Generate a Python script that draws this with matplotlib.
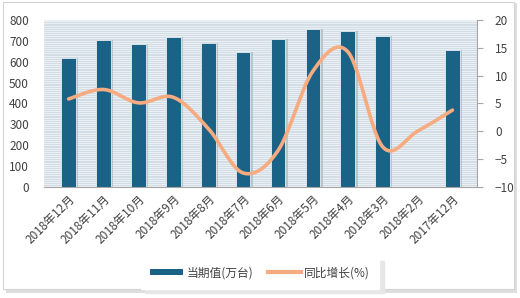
import numpy as np
import matplotlib
matplotlib.use("Agg")
import matplotlib.pyplot as plt
from matplotlib.patches import Rectangle
from matplotlib.lines import Line2D

plt.rcParams['font.family'] = ['Noto Sans CJK SC', 'DejaVu Sans']

months = ["2018年12月", "2018年11月", "2018年10月", "2018年9月", "2018年8月", "2018年7月",
          "2018年6月", "2018年5月", "2018年4月", "2018年3月", "2018年2月", "2017年12月"]
output = [618, 705, 683, 717, 690, 648, 709, 755, 749, 725, np.nan, 656]
growth = [5.8, 7.5, 5.1, 6.1, 0.5, -7.5, -3.5, 10.8, 14.3, -2.8, 0.0, 3.8]

bar_color = "#1b6386"
line_color = "#f7ab80"


def smooth_curve(x, y, steps=30):
    # Excel-like smoothed line: cubic bezier with Catmull-Rom control points
    x = np.asarray(x, float)
    y = np.asarray(y, float)
    px = np.concatenate([[x[0]], x, [x[-1]]])
    py = np.concatenate([[y[0]], y, [y[-1]]])
    xs, ys = [], []
    t = np.linspace(0, 1, steps)
    for i in range(1, len(px) - 2):
        p0 = np.array([px[i], py[i]])
        p3 = np.array([px[i + 1], py[i + 1]])
        p1 = p0 + (np.array([px[i + 1], py[i + 1]]) - np.array([px[i - 1], py[i - 1]])) / 6
        p2 = p3 - (np.array([px[i + 2], py[i + 2]]) - np.array([px[i], py[i]])) / 6
        pts = ((1 - t) ** 3)[:, None] * p0 + (3 * (1 - t) ** 2 * t)[:, None] * p1 \
            + (3 * (1 - t) * t ** 2)[:, None] * p2 + (t ** 3)[:, None] * p3
        xs.extend(pts[:, 0])
        ys.extend(pts[:, 1])
    return np.array(xs), np.array(ys)


fig = plt.figure(figsize=(5.2, 2.98), dpi=100)
fig.patch.set_facecolor("white")

# outer frame with soft shadow
fig.add_artist(Rectangle((0.012, 0.018), 0.982, 0.972, transform=fig.transFigure,
                         facecolor="#dedede", edgecolor="none", zorder=-3))
fig.add_artist(Rectangle((0.006, 0.03), 0.982, 0.962, transform=fig.transFigure,
                         facecolor="white", edgecolor="#d4d4d4", lw=0.8, zorder=-2))

ax = fig.add_axes([0.085, 0.373, 0.832, 0.56])
ax.set_facecolor("#e9eff3")
x = np.arange(len(months))

# striped background
for yv in np.arange(0, 800, 9):
    ax.axhline(yv, color="#c9d6df", lw=0.5, zorder=0)

ax.bar(x + 0.06, output, width=0.44, color="#9aa5ab", alpha=0.5, zorder=1)
ax.bar(x, output, width=0.42, color=bar_color, edgecolor="#e6eef2", lw=0.6, zorder=2)
ax.set_ylim(0, 800)
ax.set_yticks(range(0, 801, 100))
ax.set_xlim(-0.7, len(months) - 0.3)
ax.set_xticks(x)
ax.set_xticklabels(months, rotation=45, ha="right", rotation_mode="anchor", fontsize=8.5, color="#404040")
ax.tick_params(axis="y", labelsize=8.5, labelcolor="#404040", length=0, pad=11)
ax.tick_params(axis="x", length=0, pad=4)
for s in ["top", "right", "left"]:
    ax.spines[s].set_visible(False)
ax.spines["bottom"].set_color("#a6a6a6")

ax2 = ax.twinx()
sx, sy = smooth_curve(x, growth)
ax2.plot(sx, sy, color=line_color, lw=2.6, solid_capstyle="round", zorder=3)
ax2.set_ylim(-10, 20)
ax2.set_yticks(range(-10, 21, 5))
ax2.tick_params(axis="y", labelsize=8.5, labelcolor="#404040", length=4, color="#a6a6a6", pad=9)
for s in ["top", "left", "bottom"]:
    ax2.spines[s].set_visible(False)
ax2.spines["right"].set_color("#a6a6a6")

# legend with soft shadow box
handles = [Rectangle((0, 0), 1, 1, facecolor=bar_color),
           Line2D([0], [0], color=line_color, lw=3)]
leg = fig.legend(handles, ["当期值(万台)", "同比增长(%)"], loc="center",
                 bbox_to_anchor=(0.5, 0.085), ncol=2, frameon=True, fontsize=8.5,
                 handlelength=2.8, handleheight=0.45, columnspacing=1.2, handletextpad=0.3,
                 borderpad=0.8, fancybox=False,
                 shadow={"ox": 3, "oy": -3, "color": "#e6e6e6", "alpha": 1})
leg.get_frame().set_edgecolor("white")
for t in leg.get_texts():
    t.set_color("#404040")

plt.savefig("out.png", dpi=100)
plt.close()
